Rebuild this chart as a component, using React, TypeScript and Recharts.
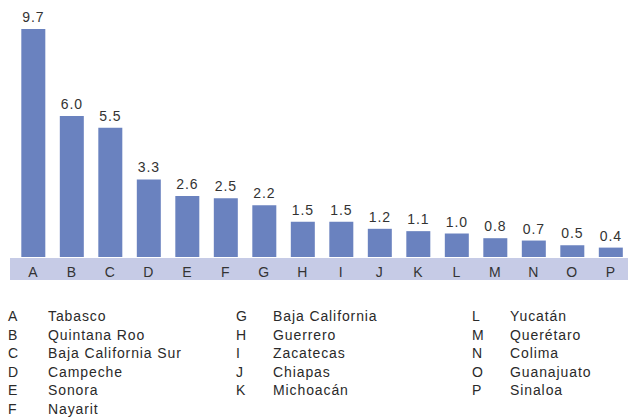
import { BarChart, Bar, XAxis, YAxis, LabelList } from 'recharts'

const letters = ['A', 'B', 'C', 'D', 'E', 'F', 'G', 'H', 'I', 'J', 'K', 'L', 'M', 'N', 'O', 'P']
const values = [9.7, 6.0, 5.5, 3.3, 2.6, 2.5, 2.2, 1.5, 1.5, 1.2, 1.1, 1.0, 0.8, 0.7, 0.5, 0.4]
const states = [
  'Tabasco',
  'Quintana Roo',
  'Baja California Sur',
  'Campeche',
  'Sonora',
  'Nayarit',
  'Baja California',
  'Guerrero',
  'Zacatecas',
  'Chiapas',
  'Michoacán',
  'Yucatán',
  'Querétaro',
  'Colima',
  'Guanajuato',
  'Sinaloa',
]
// where each legend column starts in the letters list
const columnStarts = [0, 6, 11, 16]

const FONT = '"Liberation Sans", Arial, Helvetica, sans-serif'
const BAR = '#6a82bf'
const BAND = '#c6cbe6'
const SPACING = 0.9

const data = letters.map((l, i) => ({ letter: l, value: values[i] }))

const columnX = [
  { letter: 8, name: 48 },
  { letter: 236, name: 273 },
  { letter: 472, name: 510 },
]

export default function App() {
  return (
    <div
      style={{
        position: 'absolute',
        left: 0,
        top: 0,
        width: 628,
        height: 417,
        background: '#fff',
        fontFamily: FONT,
        overflow: 'hidden',
      }}
    >
      {/* axis band behind the category letters */}
      <div style={{ position: 'absolute', left: 10, top: 258, width: 618, height: 22, background: BAND }} />
      <div style={{ position: 'absolute', left: 0, top: 0 }}>
        <BarChart
          width={630}
          height={281}
          data={data}
          margin={{ top: 22, right: 0, bottom: 0, left: 14 }}
          barCategoryGap="19%"
        >
          <XAxis
            dataKey="letter"
            height={24}
            axisLine={false}
            tickLine={false}
            tickMargin={4}
            interval={0}
            tick={{ fill: '#333', fontSize: 14, fontFamily: FONT, letterSpacing: SPACING }}
          />
          <YAxis hide domain={[0, 10]} />
          <Bar dataKey="value" fill={BAR} isAnimationActive={false}>
            <LabelList
              dataKey="value"
              position="top"
              offset={7}
              formatter={(v: number) => v.toFixed(1)}
              style={{ fill: '#333', fontSize: 14, fontFamily: FONT, letterSpacing: SPACING }}
            />
          </Bar>
        </BarChart>
      </div>
      {columnX.map((col, c) =>
        letters.slice(columnStarts[c], columnStarts[c + 1]).map((l, j) => {
          const idx = columnStarts[c] + j
          const top = 307 + j * 18.5
          return (
            <div
              key={l}
              style={{
                position: 'absolute',
                top,
                left: 0,
                fontSize: 14,
                lineHeight: '18.5px',
                letterSpacing: SPACING,
                color: '#2a2a2a',
              }}
            >
              <span style={{ position: 'absolute', left: col.letter, whiteSpace: 'nowrap' }}>{l}</span>
              <span style={{ position: 'absolute', left: col.name, whiteSpace: 'nowrap' }}>{states[idx]}</span>
            </div>
          )
        })
      )}
    </div>
  )
}
